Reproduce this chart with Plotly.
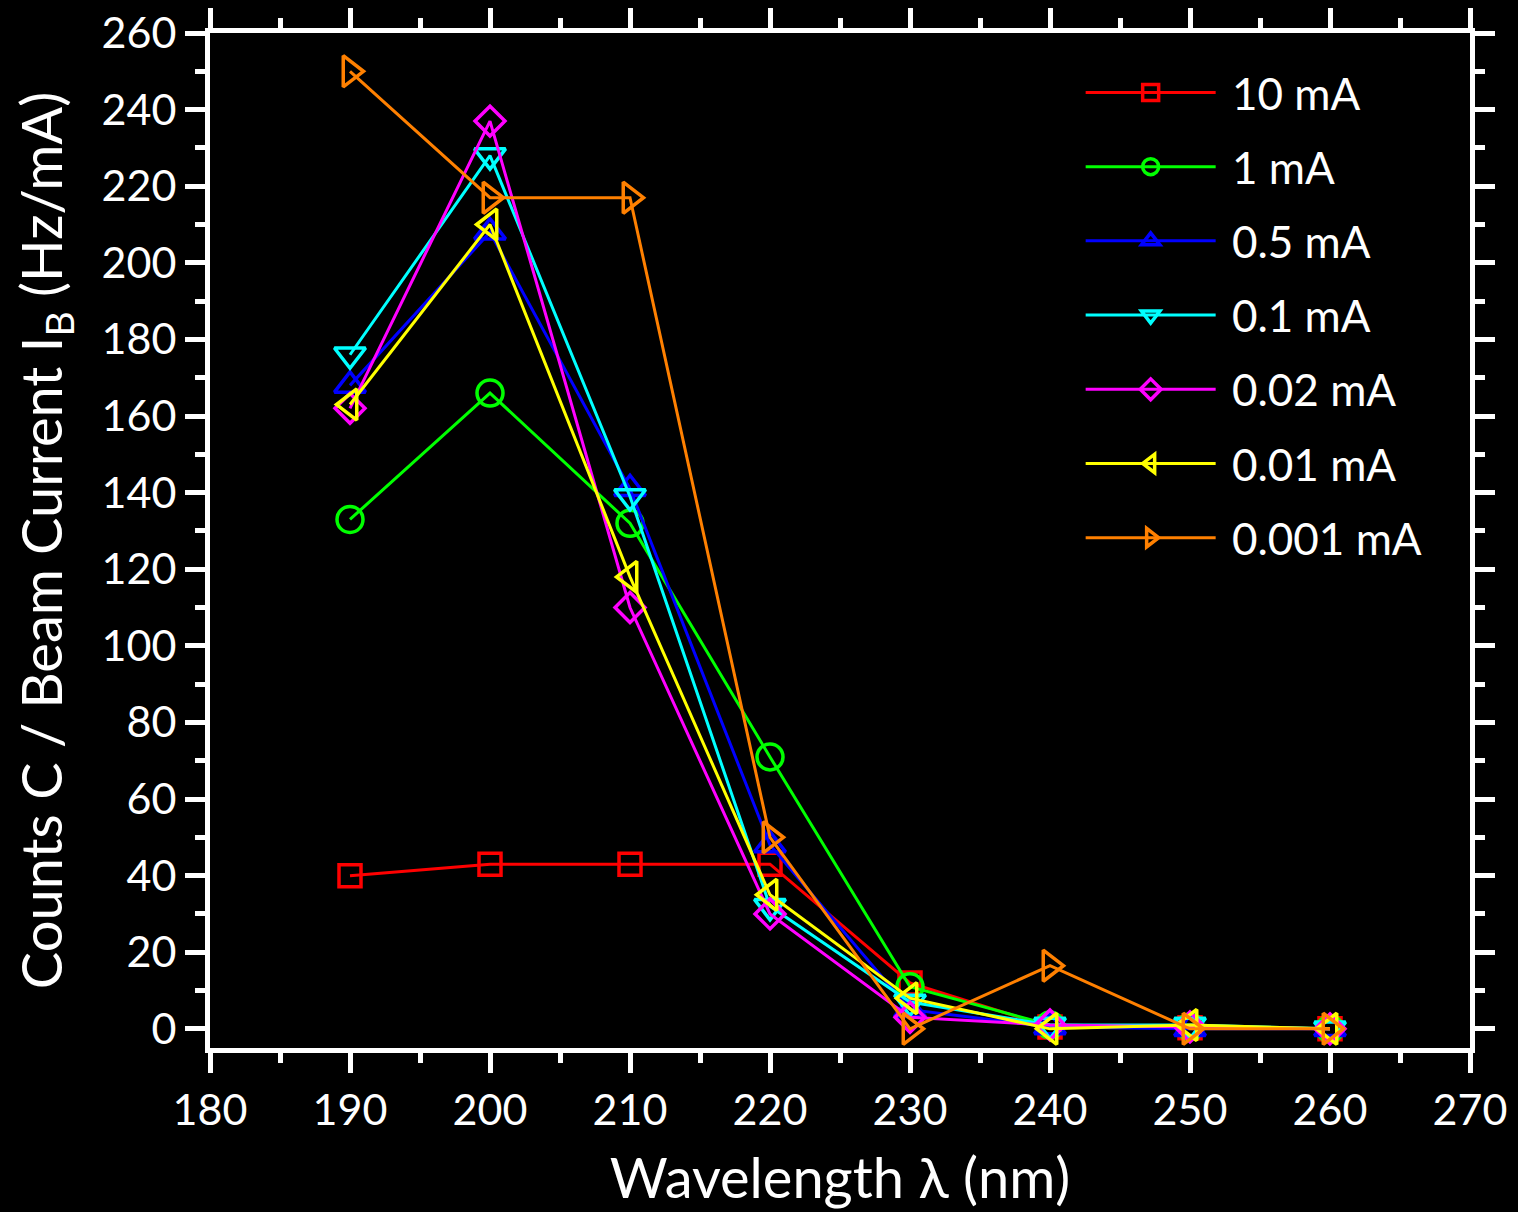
import plotly.graph_objects as go

# Wavelength grid (nm)
wavelength = [190, 200, 210, 220, 230, 240, 250, 260]

# Counts per beam current (Hz/mA) for each beam current setting
labels = ["10 mA", "1 mA", "0.5 mA", "0.1 mA", "0.02 mA", "0.01 mA", "0.001 mA"]
counts_10mA = [40, 43, 43, 43, 12, 0.5, 0.3, 0]
counts_1mA = [133, 166, 132, 71, 11, 1, 0.5, 0]
counts_05mA = [168, 208, 141, 48, 5, 0.5, 0, 0]
counts_01mA = [176, 228, 139, 32, 7, 1, 1, 0]
counts_002mA = [162, 237, 110, 30, 3, 1, 0.5, 0]
counts_001mA = [163, 210, 118, 35, 8, 0, 1, 0]
counts_0001mA = [250, 217, 217, 50, 0, 16.5, 0, 0]

series = [counts_10mA, counts_1mA, counts_05mA, counts_01mA,
          counts_002mA, counts_001mA, counts_0001mA]
colors = ["#FF0000", "#00FF00", "#0000FF", "#00FFFF", "#FF00FF", "#FFFF00", "#FF8000"]
symbols = ["square-open", "circle-open", "triangle-up-open", "triangle-down-open",
           "diamond-open", "triangle-left-open", "triangle-right-open"]
sizes = [22, 26, 27, 27, 23, 27, 27]

FONT = "Lato"

fig = go.Figure()
for i, (name, ys) in enumerate(zip(labels, series)):
    fig.add_trace(go.Scatter(
        x=wavelength, y=ys, name=" " + name, mode="lines+markers",
        legendgroup=name,
        line=dict(color=colors[i], width=3),
        marker=dict(symbol=symbols[i], size=sizes[i], color=colors[i],
                    line=dict(color=colors[i], width=3.5)),
    ))

axis_common = dict(
    showline=True, linewidth=5, linecolor="white", mirror="ticks",
    ticks="outside", ticklen=20, tickwidth=5, tickcolor="white",
    showgrid=False, zeroline=False, automargin=False,
    tickfont=dict(family=FONT, size=43, color="white"),
)

fig.update_xaxes(
    range=[180, 270], tick0=180, dtick=10,
    minor=dict(ticks="outside", ticklen=10, tickwidth=5, tickcolor="white", dtick=5),
    title=dict(text="Wavelength λ (nm)", font=dict(family=FONT, size=56, color="white"),
               standoff=28),
    **axis_common,
)
fig.update_yaxes(
    range=[-5, 260], tick0=0, dtick=20,
    minor=dict(ticks="outside", ticklen=10, tickwidth=5, tickcolor="white", dtick=10),
    title=dict(text="Counts C / Beam Current I<sub>B</sub> (Hz/mA)",
               font=dict(family=FONT, size=56, color="white"), standoff=22),
    **axis_common,
)

fig.update_layout(
    template="none",
    width=1518, height=1212,
    paper_bgcolor="black", plot_bgcolor="black",
    margin=dict(l=210, r=48, t=33, b=164),
    legend=dict(
        x=0.691, y=0.976, xanchor="left", yanchor="top",
        bgcolor="rgba(0,0,0,0)", borderwidth=0,
        font=dict(family=FONT, size=44, color="white"),
        itemwidth=130, tracegroupgap=14,
    ),
)

fig.write_html("out.html")
